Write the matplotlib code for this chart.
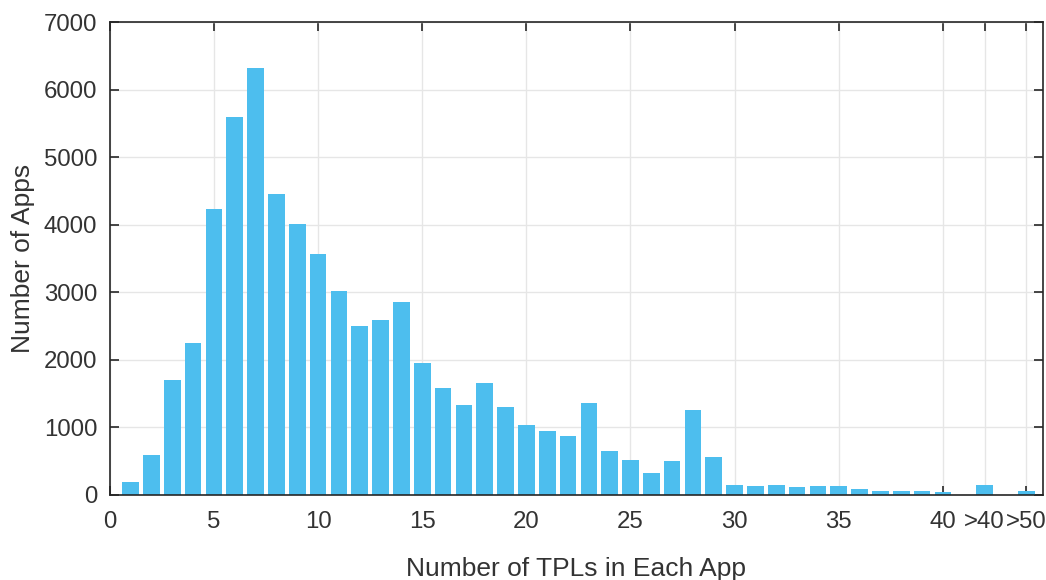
import matplotlib.pyplot as plt

# number of TPLs per app (x position) and app counts
tpl_counts = list(range(1, 41)) + [42, 44]
app_counts = [185, 590, 1695, 2250, 4225, 5595, 6320, 4460, 4015, 3560,
              3010, 2505, 2595, 2855, 1945, 1580, 1330, 1650, 1305, 1035,
              940, 875, 1355, 650, 515, 315, 505, 1255, 565, 145,
              135, 150, 120, 130, 125, 80, 55, 60, 55, 35,
              145, 60]

tick_pos = [0, 5, 10, 15, 20, 25, 30, 35, 40, 42, 44]
tick_labels = ['0', '5', '10', '15', '20', '25', '30', '35', '40', '>40', '>50']
y_ticks = [0, 1000, 2000, 3000, 4000, 5000, 6000, 7000]

plt.rcParams['font.family'] = ['Liberation Sans', 'DejaVu Sans']
text_color = '#333333'

fig = plt.figure(figsize=(10.46, 5.8), dpi=100)
ax = fig.add_axes([0.105, 0.147, 0.892, 0.815])

ax.bar(tpl_counts, app_counts, width=0.8, color='#4DBEEE', edgecolor='none', zorder=3)

ax.set_xlim(0, 44.8)
ax.set_ylim(0, 7000)
ax.set_xticks(tick_pos)
ax.set_xticklabels(tick_labels)
ax.set_yticks(y_ticks)

ax.grid(True, color='#e6e6e6', linewidth=1.0, zorder=0)
ax.set_axisbelow(True)

for side in ['top', 'bottom', 'left', 'right']:
    ax.spines[side].set_color('#262626')
    ax.spines[side].set_linewidth(1.2)
    ax.spines[side].set_zorder(4)

ax.tick_params(axis='both', direction='in', length=6.5, width=1.2, colors='#262626',
               top=True, right=True, labelsize=17.3, labelcolor=text_color)
ax.tick_params(axis='x', pad=12)
ax.tick_params(axis='y', pad=9)

ax.set_xlabel('Number of TPLs in Each App', fontsize=19, color=text_color, labelpad=17)
ax.set_ylabel('Number of Apps', fontsize=19, color=text_color, labelpad=6)

fig.savefig('out.png', dpi=100)
